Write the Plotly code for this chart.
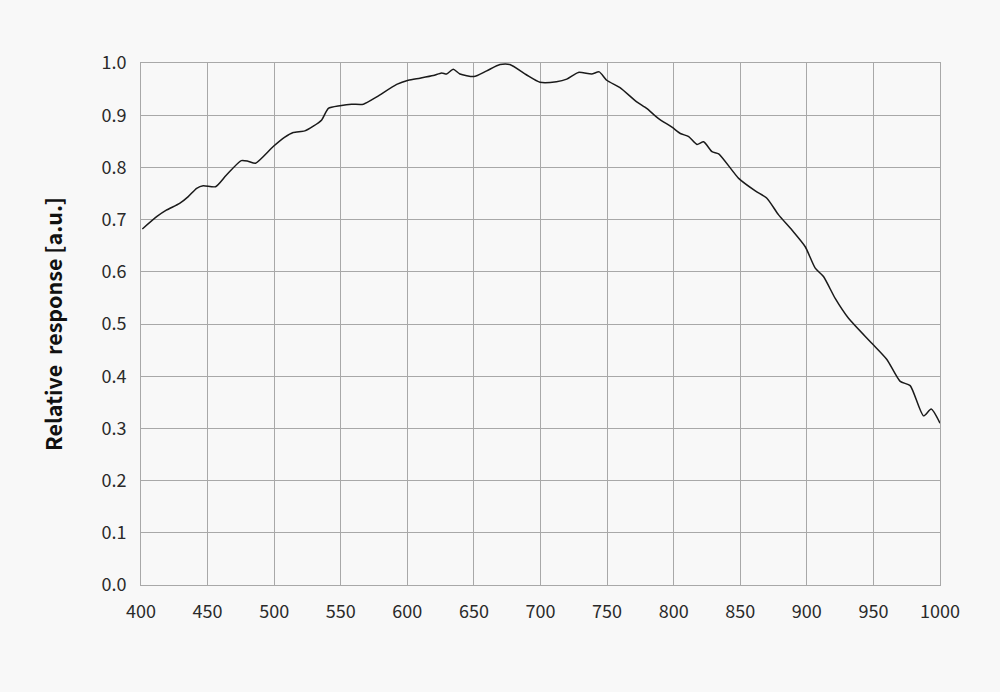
import plotly.graph_objects as go

# Wavelength [nm] and relative response
wavelength = [401, 412, 419, 429, 435.5, 441.8, 446.7, 456, 464, 475.3, 480.3, 486,
              499.3, 508, 514.3, 523, 529.4, 535.7, 540.7, 549.4, 558.1, 567, 577, 592,
              600.7, 609.5, 619.5, 625.8, 629.5, 634.5, 639.5, 650, 659.6, 669.6, 677,
              689.6, 699.6, 712, 719.7, 728.4, 738.4, 744.1, 749.7, 759.7, 772, 779.7,
              788.4, 798.7, 805, 811.3, 817.5, 822.5, 828.8, 833.8, 848.8, 861.3, 870,
              878.8, 888.8, 898.8, 906.3, 912.5, 921.3, 931.3, 948.8, 960.1, 970.1,
              977.6, 987.6, 993.4, 1000]
response = [0.682, 0.706, 0.718, 0.731, 0.744, 0.760, 0.765, 0.763, 0.785, 0.813, 0.812, 0.808,
            0.840, 0.858, 0.867, 0.870, 0.879, 0.891, 0.913, 0.918, 0.921, 0.921, 0.935, 0.959,
            0.967, 0.971, 0.976, 0.981, 0.979, 0.988, 0.979, 0.974, 0.985, 0.997, 0.997,
            0.977, 0.963, 0.964, 0.969, 0.982, 0.979, 0.983, 0.967, 0.953, 0.926, 0.913,
            0.894, 0.877, 0.865, 0.859, 0.844, 0.849, 0.830, 0.826, 0.779, 0.755, 0.741,
            0.709, 0.680, 0.648, 0.607, 0.591, 0.549, 0.511, 0.463, 0.432, 0.390,
            0.382, 0.324, 0.337, 0.310]

x_ticks = list(range(400, 1001, 50))
y_ticks = [i / 10 for i in range(11)]

fig = go.Figure()
fig.add_trace(go.Scatter(
    x=wavelength, y=response,
    mode="lines",
    line=dict(color="#1a1a1a", width=1.5, shape="spline", smoothing=0.6),
    showlegend=False,
))

axis_common = dict(
    showgrid=True, gridcolor="#a8a8a8", gridwidth=1,
    showline=True, linecolor="#a8a8a8", linewidth=1, mirror=True,
    zeroline=False, ticks="",
    tickfont=dict(size=18, color="#2a2a2a"),
)

fig.update_layout(
    width=1000, height=692,
    paper_bgcolor="#f8f8f8", plot_bgcolor="#f8f8f8",
    font=dict(family="Noto Sans CJK JP, Noto Sans, sans-serif", color="#222222"),
    margin=dict(l=141, r=60, t=63, b=107),
    xaxis=dict(range=[400, 1000], tickvals=x_ticks,
               ticklabelstandoff=10, **axis_common),
    yaxis=dict(range=[0, 1.0], tickvals=y_ticks, tickformat=".1f",
               ticklabelstandoff=10,
               title=dict(text="<b>Relative  response [a.u.]</b>",
                          font=dict(size=21.5, color="#111111"), standoff=32),
               **axis_common),
)

# drop the page margin so the figure sits flush in the window
fig.write_html(
    "out.html",
    config={"displayModeBar": False},
    post_script="document.body.style.margin='0';"
                "document.body.style.overflow='hidden';"
                "document.body.style.background='#f8f8f8';",
)
